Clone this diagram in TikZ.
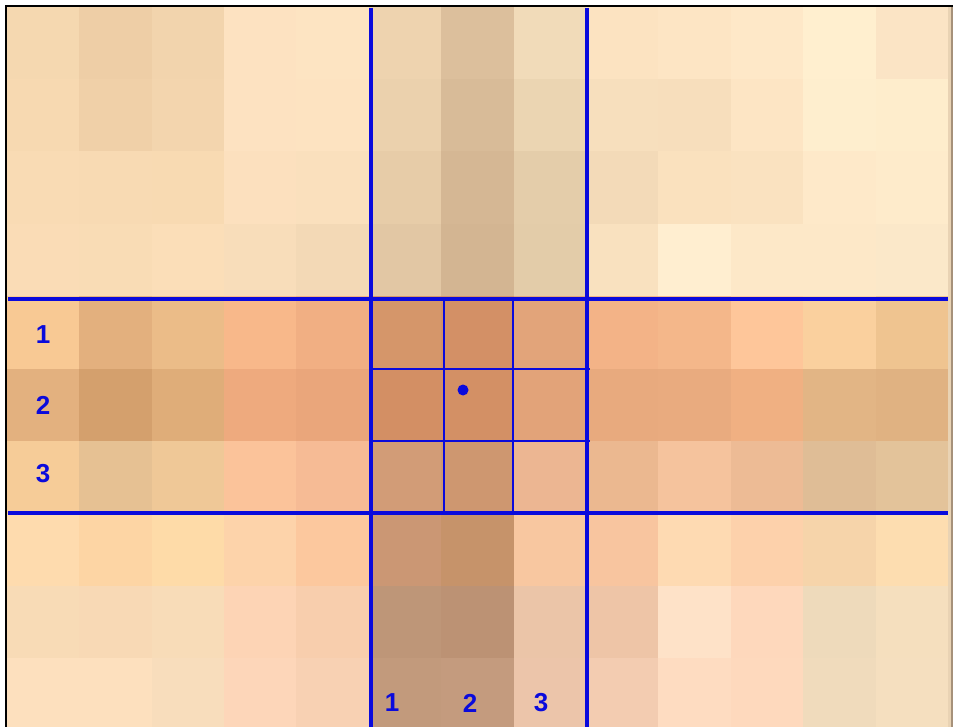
\documentclass[tikz,border=0pt]{standalone}
\usepackage{fontspec}
\setmainfont{Liberation Sans}
\begin{document}
\begin{tikzpicture}[x=1pt,y=-1pt,
  thickblue/.style={draw=gblue,line width=3.2pt},
  thinblue/.style={draw=gblue,line width=1.1pt},
  lbl/.style={text=gblue,font=\fontsize{26}{26}\selectfont\bfseries,inner sep=0pt}]
\definecolor{gblue}{HTML}{0A0ADC}
\useasboundingbox (0,0) rectangle (953,727);
\clip (0,0) rectangle (953,727);
\fill[white] (0,0) rectangle (953,727);
\foreach \row [count=\j from 0] in {
{F5D8B0,EECEA6,F2D4AD,FDE2C1,FDE4C2,EED3AF,DCBF9C,F1DBB9,FCE3C1,FDE5C4,FEE8C8,FFEFCF,FBE4C5},
{F7D9B1,F0D0A8,F3D5AE,FDE2C1,FDE3C1,EBD1AD,D8BB98,EBD5B2,F7DFBD,F7DEBC,FDE5C4,FEEECE,FEEDCC},
{F9DBB4,F8DAB3,F8DAB2,FCE0BE,FAE0BD,E7CCA8,D5B794,E4CDAA,F3DAB8,FAE1BE,FAE2C0,FEE9C9,FEEBCB},
{FADCB6,F9DCB5,FBDEB8,F8DDBA,F3D9B6,E2C7A4,D3B592,E3CCA9,F9E1BF,FFEED0,FDE8C8,FDE8C8,FBE8C9},
{F8C994,E3B07E,EBBC88,F8B88A,F1AF83,D5966A,D39066,E2A47A,F3B387,F4B78A,FEC69A,FAD09E,EFC490},
{E3B17F,D4A06D,DFAD79,EEAA7E,EAA67B,D38F64,D39065,E2A379,E8AA7E,E9AB7F,F0B082,E2B585,E0B282},
{F6CC98,E6C193,EFC897,FBC39A,F6BB95,D29C77,CE9770,ECB692,EBB890,F5C39D,EDBB95,DFBD96,E3C39A},
{FEDBAE,FDD5A4,FEDBA8,FDD3AA,FCC89E,CB9774,C6936A,F8C7A0,F8C59F,FEDAB2,FDD1AB,F6D4AA,FDDDB0},
{F8DBB6,F8D9B5,F8DCB8,FDD4B5,F8CEAD,BE9678,BC9274,EBC5A8,EEC5A7,FEE2C8,FED8BC,EEDABB,F5DFBE},
{FDE0BE,FDE0BE,F8DDBC,FDD6B9,F8D1B3,C29A7C,C49B7E,ECC5AA,F3CCB1,FEDCC1,FED9BD,F0DBBC,F5DFBF}}
{
  \foreach \hx [count=\i from 0] in \row {
    \edef\tmpdef{\noexpand\definecolor{cc}{HTML}{\hx}}\tmpdef
    \fill[cc] ({7+72.4*\i-0.3},{7+72.4*\j-0.3}) rectangle ({7+72.4*(\i+1)+0.3},{7+72.4*(\j+1)+0.3});
  }
}
% right edge strip
\definecolor{edgeA}{HTML}{E9D3B4}
\definecolor{edgeB}{HTML}{A6917A}
\fill[edgeA] (948,7) rectangle (951,727);
\fill[edgeB] (951,7) rectangle (953,727);
% black frame (top and left)
\fill[black] (5,5) rectangle (953,7.2);
\fill[black] (5,5) rectangle (7.2,727);
% thin inner grid
\coordinate (v1t) at (444,299); \coordinate (v1b) at (444,513);
\coordinate (v2t) at (513,299); \coordinate (v2b) at (513,513);
\coordinate (h1l) at (371,369); \coordinate (h1r) at (590,369);
\coordinate (h2l) at (371,441); \coordinate (h2r) at (590,441);
\draw[thinblue] (v1t) -- (v1b);
\draw[thinblue] (v2t) -- (v2b);
\draw[thinblue] (h1l) -- (h1r);
\draw[thinblue] (h2l) -- (h2r);
% thick lines
\coordinate (V1t) at (371,8); \coordinate (V1b) at (371,727);
\coordinate (V2t) at (587,8); \coordinate (V2b) at (587,727);
\coordinate (H1l) at (8,299); \coordinate (H1r) at (948,299);
\coordinate (H2l) at (8,513); \coordinate (H2r) at (948,513);
\draw[thickblue] (V1t) -- (V1b);
\draw[thickblue] (V2t) -- (V2b);
\draw[thickblue] (H1l) -- (H1r);
\draw[thickblue] (H2l) -- (H2r);
% centre dot
\node[circle,fill=gblue,minimum size=11pt,inner sep=0pt] (ctr) at (463,390) {};
% labels
\node[lbl] (l1) at (43,335) {1};
\node[lbl] (l2) at (43,405) {2};
\node[lbl] (l3) at (43,474) {3};
\node[lbl] (b1) at (392,703) {1};
\node[lbl] (b2) at (470,703) {2};
\node[lbl] (b3) at (541,703) {3};
\end{tikzpicture}
\end{document}
